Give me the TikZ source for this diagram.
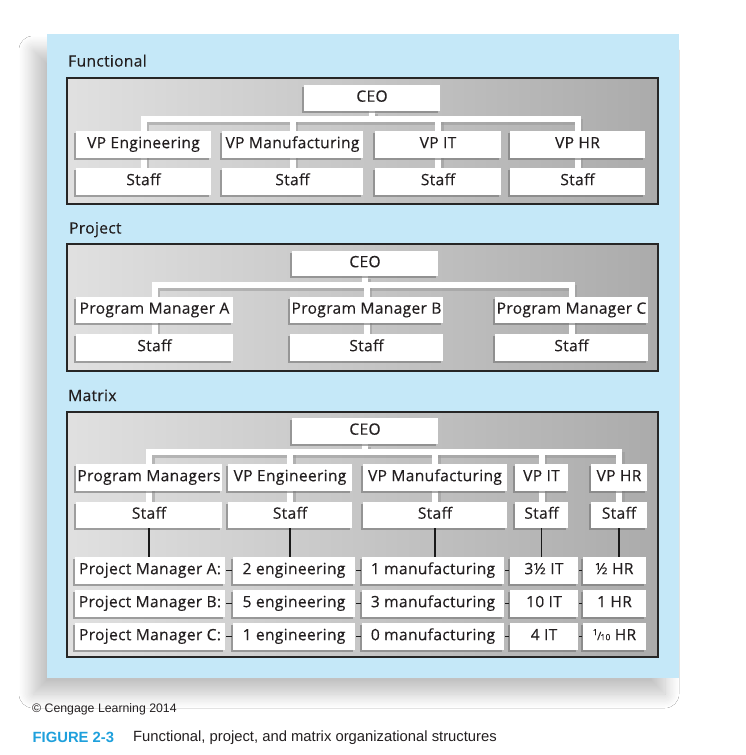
\documentclass[tikz,border=0pt]{standalone}
\usepackage{fontspec}
\setmainfont{Open Sans}[LetterSpace=2,FakeBold=0.25]
\newfontfamily\capfont{Liberation Sans}
\usetikzlibrary{shadows,shadows.blur,calc}
\pgfdeclarelayer{bglayer}
\pgfdeclarelayer{linelayer}
\pgfsetlayers{bglayer,linelayer,main}
\definecolor{panelblue}{RGB}{197,232,248}
\definecolor{figblue}{RGB}{30,160,220}
\definecolor{ink}{RGB}{35,31,32}
\newcommand{\onetenth}{{\raisebox{0.32em}{\fontsize{8.5}{8}\selectfont 1}\kern-0.6pt{\fontsize{11.5}{11}\selectfont /}\kern-0.8pt{\fontsize{8.5}{8}\selectfont 10}}}
\begin{document}
\begin{tikzpicture}[x=1pt,y=-1pt,
  box/.style={fill=white, inner sep=0pt, minimum height=26.5pt, text=ink,
    font=\fontsize{15.6}{15}\selectfont, text height=11pt, text depth=3.6pt,
    drop shadow={shadow xshift=-1.8pt, shadow yshift=-1.8pt, fill=black!55, opacity=0.6}},
  panel/.style={left color=black!12, right color=black!33, draw=black!85, line width=1.1pt},
  paneltitle/.style={anchor=base west, inner sep=0pt, text=ink, font=\fontsize{15.6}{15}\selectfont},
  wline/.style={draw=white, line width=6pt, line join=miter},
  wshadow/.style={draw=black!40, opacity=0.55, line width=6pt, line join=miter,
    transform canvas={xshift=2.5pt, yshift=-2.5pt}},
  vline/.style={draw=black!90, line width=1.2pt},
  rowdash/.style={draw=black!90, line width=1.2pt, shorten <=1pt, shorten >=1pt}
]
\useasboundingbox (0,0) rectangle (746,755);
\begin{pgfonlayer}{bglayer}
\fill[white] (0,0) rectangle (746,755);
\fill[panelblue, blur shadow={shadow xshift=-14pt, shadow yshift=-16pt, shadow blur radius=14pt, shadow opacity=24, shadow blur steps=12}] (47,34) rectangle (679,678);
\draw[panel] (67,78) rectangle (658,204);
\draw[panel] (67,244) rectangle (658,371);
\draw[panel] (67,412) rectangle (658,657);
\end{pgfonlayer}

% ---------------- Functional ----------------
\node[paneltitle] (tfun) at (68,66.5) {Functional};
\node[box, minimum width=136pt] (fceo) at (372,98) {CEO};
\node[box, minimum width=135pt] (fv1) at (143.5,144.5) {VP Engineering};
\node[box, minimum width=141pt] (fv2) at (292.5,144.5) {VP Manufacturing};
\node[box, minimum width=126pt] (fv3) at (438,144.5) {VP IT};
\node[box, minimum width=135pt] (fv4) at (577.5,144.5) {VP HR};
\node[box, minimum width=135pt] (fs1) at (143.5,181.5) {Staff};
\node[box, minimum width=141pt] (fs2) at (292.5,181.5) {Staff};
\node[box, minimum width=126pt] (fs3) at (438,181.5) {Staff};
\node[box, minimum width=135pt] (fs4) at (577.5,181.5) {Staff};
\coordinate (fbar) at (0,119);
\begin{pgfonlayer}{linelayer}
\foreach \st in {wshadow,wline}{
  \draw[\st] (fceo.south) -- (fceo.south |- fbar);
  \draw[\st] (fs1.north) -- (fs1.north |- fbar) -- (fs4.north |- fbar) -- (fs4.north);
  \draw[\st] (fs2.north) -- (fs2.north |- fbar);
  \draw[\st] (fs3.north) -- (fs3.north |- fbar);
}
\end{pgfonlayer}

% ---------------- Project ----------------
\node[paneltitle] (tpro) at (69,233.5) {Project};
\node[box, minimum width=146pt, minimum height=25pt] (pceo) at (365,263.5) {CEO};
\node[box, minimum width=157pt] (pm1) at (154.5,310) {Program Manager A};
\node[box, minimum width=153pt] (pm2) at (366.5,310) {Program Manager B};
\node[box, minimum width=153pt] (pm3) at (571.5,310) {Program Manager C};
\node[box, minimum width=157pt] (ps1) at (154.5,347.5) {Staff};
\node[box, minimum width=153pt] (ps2) at (366.5,347.5) {Staff};
\node[box, minimum width=153pt] (ps3) at (571.5,347.5) {Staff};
\coordinate (pbar) at (0,285);
\begin{pgfonlayer}{linelayer}
\foreach \st in {wshadow,wline}{
  \draw[\st] (pceo.south) -- (pceo.south |- pbar);
  \draw[\st] (ps1.north) -- (ps1.north |- pbar) -- (ps3.north |- pbar) -- (ps3.north);
  \draw[\st] (ps2.north) -- (ps2.north |- pbar);
}
\end{pgfonlayer}

% ---------------- Matrix ----------------
\node[paneltitle] (tmat) at (68,401) {Matrix};
\node[box, minimum width=146pt] (mceo) at (365,431) {CEO};
\node[box, minimum width=146pt] (mv1) at (149,477.5) {Program Managers};
\node[box, minimum width=124pt] (mv2) at (290,477.5) {VP Engineering};
\node[box, minimum width=144pt] (mv3) at (435,477.5) {VP Manufacturing};
\node[box, minimum width=53pt] (mv4) at (541.5,477.5) {VP IT};
\node[box, minimum width=56pt] (mv5) at (619,477.5) {VP HR};
\node[box, minimum width=146pt] (ms1) at (149,515) {Staff};
\node[box, minimum width=124pt] (ms2) at (290,515) {Staff};
\node[box, minimum width=144pt] (ms3) at (435,515) {Staff};
\node[box, minimum width=53pt] (ms4) at (541.5,515) {Staff};
\node[box, minimum width=56pt] (ms5) at (619,515) {Staff};
\coordinate (mbar) at (0,452);
\begin{pgfonlayer}{linelayer}
\foreach \st in {wshadow,wline}{
  \draw[\st] (mceo.south) -- (mceo.south |- mbar);
  \draw[\st] (ms1.north) -- (ms1.north |- mbar) -- (ms5.north |- mbar) -- (ms5.north);
  \draw[\st] (ms2.north) -- (ms2.north |- mbar);
  \draw[\st] (ms3.north) -- (ms3.north |- mbar);
  \draw[\st] (ms4.north) -- (ms4.north |- mbar);
}
\end{pgfonlayer}

% rows
\node[box, minimum width=150pt] (r1c1) at (150,570.5) {Project Manager A:};
\node[box, minimum width=122pt] (r1c2) at (294,570.5) {2 engineering};
\node[box, minimum width=142pt] (r1c3) at (433,570.5) {1 manufacturing};
\node[box, minimum width=68pt] (r1c4) at (544,570.5) {3½ IT};
\node[box, minimum width=63pt] (r1c5) at (614.5,570.5) {½ HR};
\node[box, minimum width=150pt] (r2c1) at (150,603.5) {Project Manager B:};
\node[box, minimum width=122pt] (r2c2) at (294,603.5) {5 engineering};
\node[box, minimum width=142pt] (r2c3) at (433,603.5) {3 manufacturing};
\node[box, minimum width=68pt] (r2c4) at (544,603.5) {10 IT};
\node[box, minimum width=63pt] (r2c5) at (614.5,603.5) {1 HR};
\node[box, minimum width=150pt] (r3c1) at (150,636.5) {Project Manager C:};
\node[box, minimum width=122pt] (r3c2) at (294,636.5) {1 engineering};
\node[box, minimum width=142pt] (r3c3) at (433,636.5) {0 manufacturing};
\node[box, minimum width=68pt] (r3c4) at (544,636.5) {4 IT};
\node[box, minimum width=63pt] (r3c5) at (614.5,636.5) {\onetenth\ HR};

\foreach \c in {1,...,5}{
  \draw[vline] (ms\c.south) -- (ms\c.south |- r1c\c.north);
}
\foreach \r in {1,2,3}{
  \foreach \a/\b in {1/2,2/3,3/4,4/5}{
    \draw[rowdash] (r\r c\a.east) -- (r\r c\b.west);
  }
}

% ---------------- Caption ----------------
\node[anchor=west, inner sep=0pt, text=ink, font=\capfont\fontsize{12.3}{12}\selectfont] (copy) at (32,709.5) {© Cengage Learning 2014};
\node[anchor=west, inner sep=0pt, text=figblue, font=\capfont\bfseries\fontsize{14.8}{14}\selectfont] (fig) at (32.5,737.5) {FIGURE 2-3};
\node[anchor=west, inner sep=0pt, text=ink, font=\capfont\fontsize{14.8}{14}\selectfont] (cap) at (133,737.5) {Functional, project, and matrix organizational structures};
\end{tikzpicture}
\end{document}
